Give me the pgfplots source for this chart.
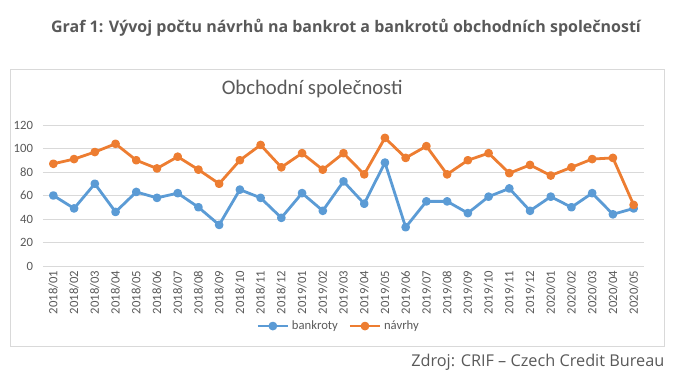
\documentclass[border=0pt]{standalone}
\usepackage{fontspec}
\setmainfont{Carlito}
\newfontfamily\opensans{Open Sans}
\usepackage{pgfplots}
\pgfplotsset{compat=1.18}
\definecolor{txt}{HTML}{595959}
\definecolor{gridc}{HTML}{D9D9D9}
\definecolor{cblue}{HTML}{5B9BD5}
\definecolor{corange}{HTML}{ED7D31}
\begin{document}
\begin{tikzpicture}[x=0.75pt,y=0.75pt]
\useasboundingbox (0,0) rectangle (674,375);
\draw[gridc, line width=0.75pt] (10,29) rectangle (664,305);
\node[text=txt, font=\opensans\bfseries\fontsize{12}{14}\selectfont] at (346,347) {Graf 1: Vývoj počtu návrhů na bankrot a bankrotů obchodních společností};
\node[anchor=east, text=txt, font=\opensans\fontsize{12.2}{14}\selectfont] at (669,13) {Zdroj: CRIF – Czech Credit Bureau};
\begin{axis}[
  at={(32.25pt,81.75pt)}, anchor=south west,
  width=450.75pt, height=105.75pt, scale only axis,
  xmin=-0.5, xmax=28.5, ymin=0, ymax=120,
  ytick={0,20,...,120},
  xtick={0,...,28},
  xticklabels={2018/01,2018/02,2018/03,2018/04,2018/05,2018/06,2018/07,2018/08,2018/09,2018/10,2018/11,2018/12,2019/01,2019/02,2019/03,2019/04,2019/05,2019/06,2019/07,2019/08,2019/09,2019/10,2019/11,2019/12,2020/01,2020/02,2020/03,2020/04,2020/05},
  axis line style={draw=none},
  tick style={draw=none},
  ymajorgrids,
  grid style={gridc, line width=0.75pt},
  yticklabel style={font=\fontsize{9.5}{11}\selectfont, text=txt, xshift=-4pt},
  xticklabel style={rotate=90, anchor=east, font=\fontsize{9.5}{11}\selectfont, text=txt},
  /pgf/number format/assume math mode=true,
  title={Obchodní společnosti},
  title style={at={(0.448,1.2)}, anchor=center, font=\fontsize{15.5}{18}\selectfont, text=txt},
  legend columns=2,
  legend style={draw=none, fill=none, at={(0.4925,-0.426)}, anchor=center,
    font=\fontsize{9.5}{11}\selectfont, text=txt,
    /tikz/every even column/.append style={column sep=6pt}},
  legend image code/.code={\draw[mark repeat=2,mark phase=2] plot coordinates {(0pt,0pt)(11.25pt,0pt)(22.5pt,0pt)};},
  every axis plot/.append style={line width=2.1pt, mark=*, mark size=2.2pt, line join=round},
]
\addplot[cblue, mark options={fill=cblue, draw=cblue}] coordinates {
(0,60)(1,49)(2,70)(3,46)(4,63)(5,58)(6,62)(7,50)(8,35)(9,65)(10,58)(11,41)(12,62)(13,47)(14,72)(15,53)(16,88)(17,33)(18,55)(19,55)(20,45)(21,59)(22,66)(23,47)(24,59)(25,50)(26,62)(27,44)(28,49)};
\addlegendentry{bankroty}
\addplot[corange, mark options={fill=corange, draw=corange}] coordinates {
(0,87)(1,91)(2,97)(3,104)(4,90)(5,83)(6,93)(7,82)(8,70)(9,90)(10,103)(11,84)(12,96)(13,82)(14,96)(15,78)(16,109)(17,92)(18,102)(19,78)(20,90)(21,96)(22,79)(23,86)(24,77)(25,84)(26,91)(27,92)(28,52)};
\addlegendentry{návrhy}
\end{axis}
\end{tikzpicture}
\end{document}
